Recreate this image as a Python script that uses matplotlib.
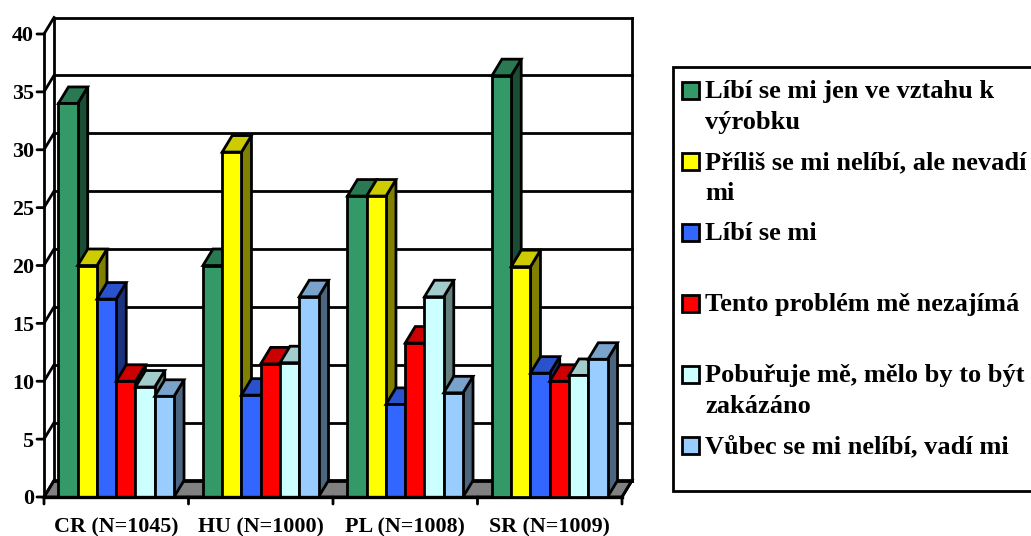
import matplotlib
matplotlib.use("Agg")
import matplotlib.pyplot as plt
from matplotlib.patches import Polygon, Rectangle
from matplotlib.colors import to_rgb

W, H = 1031, 536

categories = ["CR (N=1045)", "HU (N=1000)", "PL (N=1008)", "SR (N=1009)"]
series_names = [
    "Líbí se mi jen ve vztahu k\nvýrobku",
    "Příliš se mi nelíbí, ale nevadí\nmi",
    "Líbí se mi",
    "Tento problém mě nezajímá",
    "Pobuřuje mě, mělo by to být\nzakázáno",
    "Vůbec se mi nelíbí, vadí mi",
]
colors = ["#339966", "#FFFF00", "#3366FF", "#FF0000", "#CCFFFF", "#99CCFF"]
green = [34, 20, 26, 36.4]
yellow = [20, 29.8, 26, 19.9]
blue = [17.1, 8.8, 8, 10.7]
red = [10, 11.5, 13.3, 10]
cyan = [9.5, 11.6, 17.3, 10.5]
light_blue = [8.7, 17.3, 9, 11.9]
series = [green, yellow, blue, red, cyan, light_blue]
y_ticks = [0, 5, 10, 15, 20, 25, 30, 35, 40]

plt.rcParams["font.family"] = ["Liberation Serif", "DejaVu Serif"]
plt.rcParams["font.weight"] = "bold"

fig = plt.figure(figsize=(W / 100, H / 100), dpi=100)
ax = fig.add_axes([44 / W, (H - 497) / H, 578 / W, 463 / H])
ax.set_xlim(0, len(categories))
ax.set_ylim(0, 40)
ax.axis("off")

# depth of the fake 3d, in data units
DX = 10 / 144.5
DY = 16.5 / 11.575
BAR_W = 0.1333
GAP = 0.1
LW = 2.0


def poly(points, face, lw=LW, z=3):
    ax.add_patch(Polygon(points, closed=True, facecolor=face, edgecolor="black",
                         linewidth=lw, joinstyle="miter", clip_on=False, zorder=z))


def line(xs, ys, lw=LW, z=2):
    ax.plot(xs, ys, color="black", linewidth=lw, clip_on=False, zorder=z,
            solid_capstyle="projecting")


def shade(color, k):
    return tuple(c * k for c in to_rgb(color))


n = len(categories)

# floor
poly([(0, 0), (n, 0), (n + DX, DY), (DX, DY)], "#808080", z=1)

# walls and grid
for v in y_ticks:
    line([DX, n + DX], [v + DY, v + DY])
    line([0, DX], [v, v + DY])
line([DX, DX], [DY, 40 + DY])
line([n + DX, n + DX], [DY, 40 + DY])
line([n, n + DX], [0, DY])

# axes and ticks
line([0, 0], [0, 40], z=6)
line([0, n], [0, 0], lw=2.4, z=6)
for v in y_ticks:
    ax.annotate(str(v), (0, v), xytext=(-10, 0), textcoords="offset pixels",
                ha="right", va="center_baseline", fontsize=15.8, annotation_clip=False)
    ax.annotate("", (0, v), xytext=(-7, 0), textcoords="offset pixels",
                arrowprops=dict(arrowstyle="-", lw=LW, color="black", shrinkA=0, shrinkB=0),
                annotation_clip=False)
for i in range(n + 1):
    ax.annotate("", (i, 0), xytext=(0, -7), textcoords="offset pixels",
                arrowprops=dict(arrowstyle="-", lw=LW, color="black", shrinkA=0, shrinkB=0),
                annotation_clip=False)
for i, cat in enumerate(categories):
    ax.annotate(cat, (i + 0.5, 0), xytext=(0, -28), textcoords="offset pixels",
                ha="center", va="center_baseline", fontsize=15.8, annotation_clip=False)

# bars, left to right so each one covers the side of the one before
for i in range(n):
    for j, vals in enumerate(series):
        x0 = i + GAP + j * BAR_W
        x1 = x0 + BAR_W
        v = vals[i]
        c = colors[j]
        poly([(x1, 0), (x1 + DX, DY), (x1 + DX, v + DY), (x1, v)], shade(c, 0.5), z=3 + i + j * 0.1)
        poly([(x0, v), (x1, v), (x1 + DX, v + DY), (x0 + DX, v + DY)], shade(c, 0.8), z=3 + i + j * 0.1)
        poly([(x0, 0), (x1, 0), (x1, v), (x0, v)], c, z=3 + i + j * 0.1)

# legend box runs off the right edge of the figure
fig.add_artist(Rectangle((673 / W, (H - 491) / H), (W + 10 - 673) / W, 424 / H,
                         transform=fig.transFigure, facecolor="white",
                         edgecolor="black", linewidth=LW))
for j, name in enumerate(series_names):
    yc = 90 + j * 71
    fig.add_artist(Rectangle((682 / W, (H - yc - 8.5) / H), 17 / W, 17 / H,
                             transform=fig.transFigure, facecolor=colors[j],
                             edgecolor="black", linewidth=LW))
    for k, part in enumerate(name.split("\n")):
        fig.text(705 / W, (H - yc - 8 - k * 31) / H, part, ha="left", va="baseline",
                 fontsize=19)

fig.savefig("out.png", dpi=100)
